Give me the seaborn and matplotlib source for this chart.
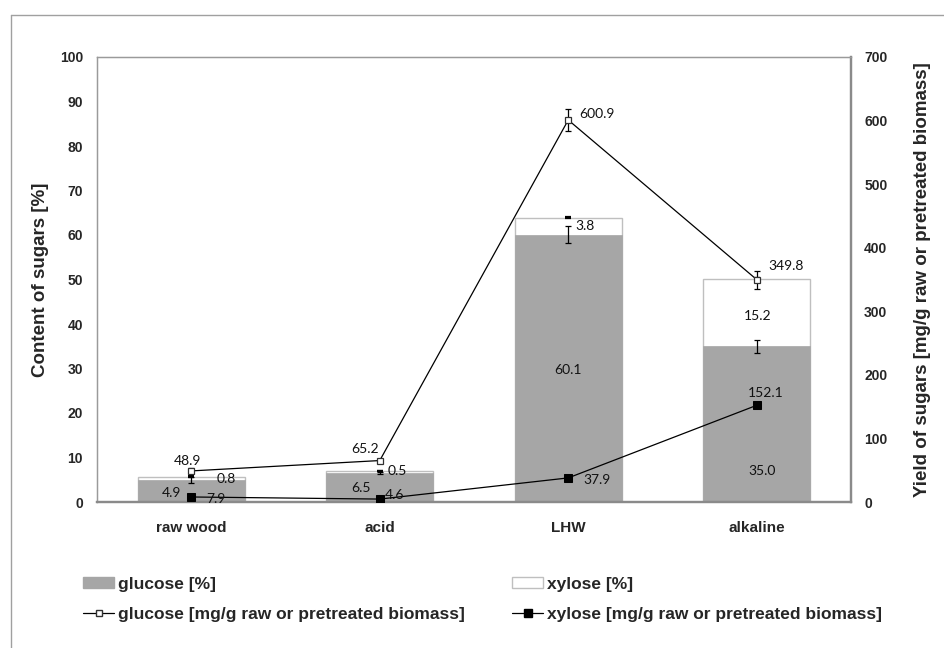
import numpy as np
import pandas as pd
import matplotlib
matplotlib.use("Agg")
import matplotlib.pyplot as plt
from matplotlib.patches import Patch
from matplotlib.lines import Line2D
import seaborn as sns

# ---------------- data ----------------
categories = ["raw wood", "acid", "LHW", "alkaline"]
glucose_pct = [4.9, 6.5, 60.1, 35.0]
xylose_pct = [0.8, 0.5, 3.8, 15.2]
glucose_pct_err = [0.7, 0.3, 1.9, 1.5]
xylose_pct_err = [0.05, 0.05, 0.1, 0.2]
glucose_mg = [48.9, 65.2, 600.9, 349.8]
xylose_mg = [7.9, 4.6, 37.9, 152.1]
glucose_mg_err = [4.0, 2.0, 18.0, 14.0]
xylose_mg_err = [1.0, 1.0, 2.0, 2.0]

left_ticks = list(range(0, 101, 10))
right_ticks = list(range(0, 701, 100))

# label offsets (pixels) for data labels -- layout only
glc_bar_off = [(-20, -2), (-19, 0), (0, -2), (5, -47)]
xyl_bar_off = [(35, -1), (18, 1), (17, 0), (1, -4)]
glc_line_off = [(-4, 10), (-15, 12), (29, 6), (29, 14)]
xyl_line_off = [(25, -2), (15, 4), (29, -2), (9, 12)]

# ---------------- style ----------------
sns.set_style("white")
plt.rcParams["font.family"] = ["Liberation Sans", "DejaVu Sans"]

W, H = 945, 648
fig = plt.figure(figsize=(W / 100, H / 100), dpi=100)
ax = fig.add_axes([97 / W, 1 - 502 / H, (851 - 97) / W, (502 - 57) / H])

GRAY = "#A6A6A6"
EDGE = "#BFBFBF"

df = pd.DataFrame({
    "category": categories,
    "total": np.array(glucose_pct) + np.array(xylose_pct),
    "glucose": glucose_pct,
})

sns.barplot(data=df, x="category", y="total", color="white", edgecolor=EDGE,
            linewidth=1.0, width=0.57, saturation=1, errorbar=None, ax=ax)
sns.barplot(data=df, x="category", y="glucose", color=GRAY, edgecolor=GRAY,
            linewidth=0.5, width=0.57, saturation=1, errorbar=None, ax=ax)

pos = np.arange(len(categories))
ax.errorbar(pos, glucose_pct, yerr=glucose_pct_err, fmt="none", ecolor="black",
            elinewidth=0.9, capsize=2.5, capthick=0.9, zorder=5)
ax.errorbar(pos, df["total"], yerr=xylose_pct_err, fmt="none", ecolor="black",
            elinewidth=0.9, capsize=2.5, capthick=1.6, zorder=5)

ax.set_ylim(0, 100)
ax.set_yticks(left_ticks)
ax.set_xlabel("")
ax.set_ylabel("Content of sugars [%]", fontsize=13.5, fontweight="bold")
ax.yaxis.set_label_coords((40 - 97) / 754, 0.5)
ax.yaxis.label.set_va("center")
ax.tick_params(axis="both", length=0)
ax.tick_params(axis="y", labelsize=10, pad=10)
ax.tick_params(axis="x", labelsize=11, pad=14)
for t in ax.get_xticklabels() + ax.get_yticklabels():
    t.set_fontweight("bold")

# ---------------- twin axis lines ----------------
ax2 = ax.twinx()
sns.lineplot(x=pos, y=glucose_mg, color="black", linewidth=0.9, marker="s",
             markersize=5, markerfacecolor="white", markeredgecolor="#303030",
             markeredgewidth=0.9, ax=ax2, zorder=6)
sns.lineplot(x=pos, y=xylose_mg, color="black", linewidth=0.9, marker="s",
             markersize=6, markerfacecolor="black", markeredgecolor="black",
             ax=ax2, zorder=6)
ax2.errorbar(pos, glucose_mg, yerr=glucose_mg_err, fmt="none", ecolor="black",
             elinewidth=0.9, capsize=2.5, capthick=0.9, zorder=5)
ax2.errorbar(pos, xylose_mg, yerr=xylose_mg_err, fmt="none", ecolor="black",
             elinewidth=0.9, capsize=2.5, capthick=0.9, zorder=5)
ax2.set_ylim(0, 700)
ax2.set_yticks(right_ticks)
ax2.set_ylabel("Yield of sugars [mg/g raw or pretreated biomass]",
               fontsize=13.5, fontweight="bold")
ax2.yaxis.set_label_coords((923 - 97) / 754, 0.5)
ax2.yaxis.label.set_va("center")
ax2.tick_params(axis="y", length=0, labelsize=10, pad=9.5)
for t in ax2.get_yticklabels():
    t.set_fontweight("bold")
ax.set_xlim(-0.5, len(categories) - 0.5)

# spines
for a in (ax, ax2):
    for s in ("left", "top"):
        a.spines[s].set_color("#9A9A9A")
        a.spines[s].set_linewidth(0.9)
    for s in ("bottom", "right"):
        a.spines[s].set_color("#8A8A8A")
        a.spines[s].set_linewidth(1.6)

# ---------------- data labels ----------------
LBL = dict(fontsize=10, family=["Lato", "DejaVu Sans"], ha="center",
           va="center", textcoords="offset pixels", color="#111111", zorder=8)
for i in range(len(categories)):
    ax.annotate(f"{glucose_pct[i]:.1f}", (pos[i], glucose_pct[i] / 2),
                xytext=glc_bar_off[i], **LBL)
    ax.annotate(f"{xylose_pct[i]:.1f}", (pos[i], glucose_pct[i] + xylose_pct[i] / 2),
                xytext=xyl_bar_off[i], **LBL)
    ax2.annotate(f"{glucose_mg[i]:.1f}", (pos[i], glucose_mg[i]),
                 xytext=glc_line_off[i], **LBL)
    ax2.annotate(f"{xylose_mg[i]:.1f}", (pos[i], xylose_mg[i]),
                 xytext=xyl_line_off[i], **LBL)

# ---------------- legends ----------------
h_glc = Patch(facecolor=GRAY, edgecolor=GRAY)
h_xyl = Patch(facecolor="white", edgecolor=EDGE)
h_glc_l = Line2D([], [], color="black", lw=0.9, marker="s", markersize=4.5,
                 markerfacecolor="white", markeredgecolor="#303030")
h_xyl_l = Line2D([], [], color="black", lw=0.9, marker="s", markersize=5.5,
                 markerfacecolor="black")
LEG = dict(loc="upper left", frameon=False, borderpad=0, borderaxespad=0,
           handlelength=1.79, handletextpad=0.2, handleheight=0.6,
           labelspacing=0.86, numpoints=1,
           prop={"size": 12.5, "weight": "bold", "family": "Liberation Sans"},
           bbox_transform=fig.transFigure)
fig.legend([h_glc, h_glc_l], ["glucose [%]", "glucose [mg/g raw or pretreated biomass]"],
           bbox_to_anchor=(83 / W, 1 - 577 / H), **LEG)
fig.legend([h_xyl, h_xyl_l], ["xylose [%]", "xylose [mg/g raw or pretreated biomass]"],
           bbox_to_anchor=(512 / W, 1 - 577 / H), **LEG)

# outer frame (cropped at right and bottom)
fig.add_artist(Line2D([10.5 / W, 10.5 / W], [0, 1 - 15 / H], color="#A0A0A0",
                      lw=1.0, transform=fig.transFigure))
fig.add_artist(Line2D([10.5 / W, 1], [1 - 15 / H, 1 - 15 / H], color="#A0A0A0",
                      lw=1.0, transform=fig.transFigure))

fig.savefig("out.png", dpi=100, facecolor="white")
